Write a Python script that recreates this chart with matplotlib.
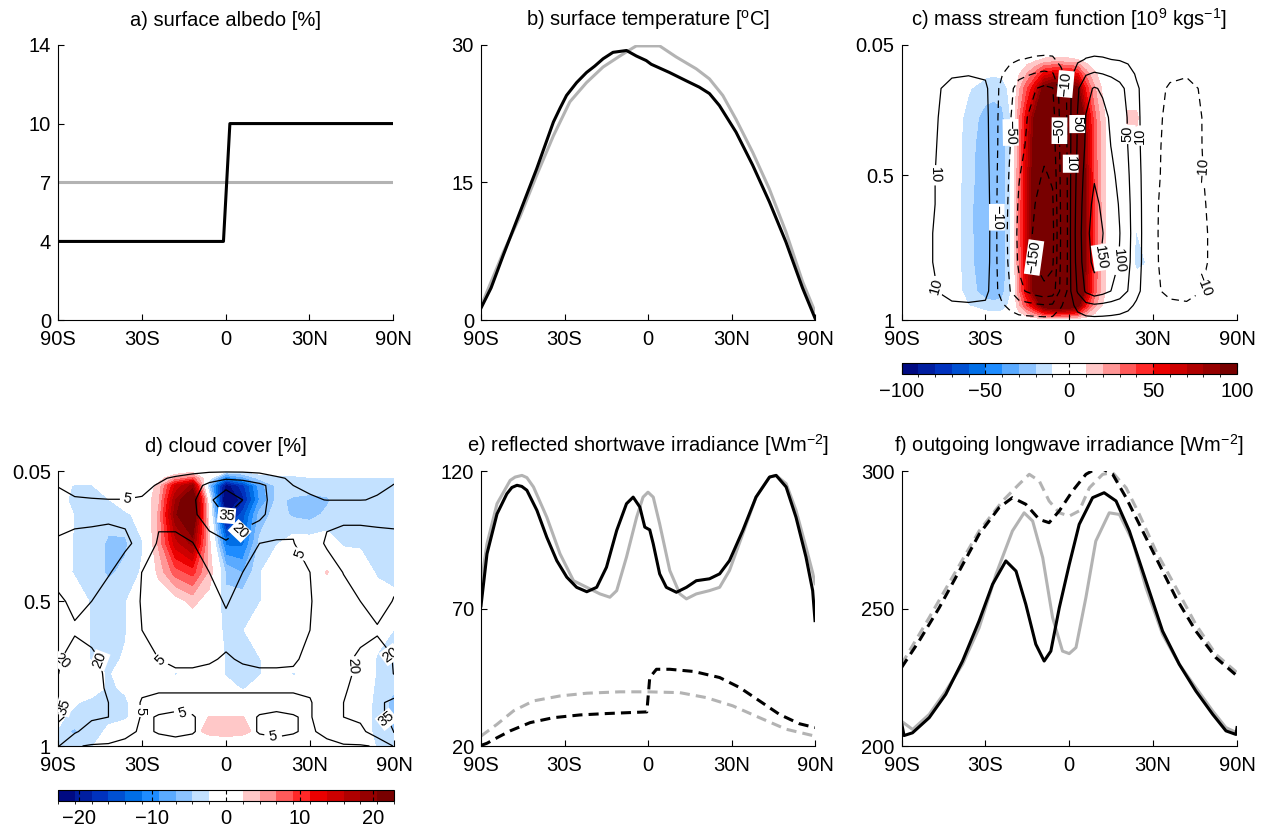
"""Six-panel zonal-mean comparison: control (grey) vs experiment (black)."""

import matplotlib

matplotlib.use("Agg")
import matplotlib.pyplot as plt
import numpy as np
from matplotlib.cm import ScalarMappable
from matplotlib.colors import BoundaryNorm, ListedColormap

plt.rcParams["font.family"] = ["Liberation Sans", "DejaVu Sans"]
plt.rcParams["mathtext.fontset"] = "custom"
plt.rcParams["mathtext.rm"] = "Liberation Sans"
plt.rcParams["mathtext.it"] = "Liberation Sans:italic"
plt.rcParams["font.size"] = 14.5

GREY = "#b3b3b3"
LAT_TICKS = [-90, -30, 0, 30, 90]
LAT_LABELS = ["90S", "30S", "0", "30N", "90N"]

# ---------------------------------------------------------------- a) albedo
albedo_ctrl_lat = [-90, 90]
albedo_ctrl = [7, 7]
albedo_exp_lat = [-90, -0.7, 1.5, 90]
albedo_exp = [4, 4, 10, 10]

# ------------------------------------------------------- b) surface temperature
tsurf_exp_lat = [-90, -70, -60, -50, -41.8, -34.5, -31.8, -29.2, -25.3, -21.6, -18.6,
                 -15.6, -12.1, -7.4, -4, -0.6, 1.1, 7.4, 13.2, 17.9, 21.6, 25.3, 31.8,
                 38.8, 46.6, 55.7, 67.7, 90]
tsurf_exp = [1.3, 3.5, 7.1, 11.8, 16.5, 21.6, 23.1, 24.5, 25.9, 27.0, 27.7, 28.5, 29.2,
             29.4, 28.8, 28.3, 27.9, 27.0, 26.1, 25.4, 24.7, 23.4, 20.5, 16.9, 12.9, 8.5,
             3.5, 0.2]
tsurf_ctrl_lat = [-90, -60, -50, -41.8, -34.5, -27.9, -21.6, -15.6, -9.7, -5.1, -4, 4,
                  9.7, 16.8, 21.6, 26.6, 31.8, 38.8, 46.6, 55.7, 67.7, 90]
tsurf_ctrl = [1.5, 7.4, 11.3, 15.8, 20.1, 23.8, 25.9, 27.6, 28.8, 29.7, 29.9, 29.9,
              28.7, 27.4, 26.3, 24.5, 21.9, 18.3, 14.3, 9.6, 4.2, 0.9]

# ------------------------------------------------ e) reflected shortwave (TOA solid, sfc dashed)
rsw_exp_lat = [-90, -74.6, -64.7, -57.7, -54.6, -51.7, -49.1, -46.5, -41.7, -37.3, -33.1,
               -29.1, -25.3, -21.5, -17.9, -14.4, -10.8, -7.4, -5.1, -2.8, -1.1, 0.6,
               1.8, 4.0, 6.3, 9.8, 13.3, 16.8, 21.6, 25.4, 29.2, 34.6, 40.3, 46.7, 50.1,
               55.8, 62.4, 71.1, 80.4, 90]
rsw_exp = [71, 89.9, 104.4, 111.7, 114.0, 114.8, 114.4, 113.0, 105.7, 95.9, 87.4, 81.4,
           77.7, 76.1, 77.7, 85.0, 98.4, 108.1, 110.5, 106.9, 99.6, 98.6, 93.5, 82.6,
           77.7, 75.9, 77.7, 80.1, 80.8, 82.6, 87.4, 98.4, 110.5, 117.8, 118.4, 114.2,
           103.2, 88.7, 76.5, 65.6]
rsw_ctrl_lat = [-90, -74.6, -64.7, -55.6, -52.7, -49, -46.5, -43.3, -37.3, -31.8, -26.5,
                -21.5, -16.7, -13.2, -10.8, -7.4, -3.9, -1.7, 0, 1.8, 4.0, 7.5, 11, 13.3,
                16.8, 21.6, 25.4, 29.2, 34.6, 40.3, 46.7, 50.1, 55.8, 62.4, 71.1, 80.4,
                90]
rsw_ctrl = [79, 93.5, 108.1, 116.6, 117.8, 118.4, 117.6, 114.2, 103.2, 89.9, 80.1, 77.7,
            75.3, 74.1, 76.5, 88.7, 103.2, 110.5, 112.3, 110.5, 100.8, 83.8, 75.3, 73.5,
            75.3, 76.5, 77.7, 83.8, 97.2, 110.5, 117.8, 118.4, 115.4, 105.7, 92.3, 83,
            79]
rsw_sfc_exp_lat = [-90, -74.6, -64.7, -55.6, -44.9, -34.5, -24, -14.4, -5.1, -0.4, 0.6,
                   2.9, 7.5, 15.9, 25.4, 33.2, 41.9, 51.9, 65, 90]
rsw_sfc_exp = [20.2, 21.0, 23.0, 25.5, 28.5, 30.3, 31.3, 31.8, 32.2, 32.4, 44.9, 47.9,
               47.9, 47.1, 44.9, 41.3, 36.4, 31.5, 28.1, 26.7]
rsw_sfc_ctrl_lat = [-90, -64.7, -53.6, -43.3, -31.8, -21.5, -9.7, 0, 11, 20.4, 30.5,
                    41.9, 55.8, 90]
rsw_sfc_ctrl = [23.6, 27.9, 32.8, 36.4, 38.2, 39.2, 39.7, 39.7, 39.4, 37.6, 34.6, 30.3,
                26.1, 23.6]

# ------------------------------------------- f) outgoing longwave (all-sky solid, clear dashed)
olr_exp_lat = [-90, -80, -69.1, -56.6, -47.4, -39.5, -32.5, -27.2, -22.2, -18.5, -15,
               -11.5, -8.6, -6.3, -3.4, 0, 3.4, 8, 12, 16.2, 21, 27.2, 33.8, 41, 49,
               58.8, 69.1, 83.7, 90]
olr_exp = [208.5, 203.8, 204.8, 210.3, 218.8, 230.9, 245.5, 258.8, 267.3, 263.6, 251.5,
           237, 230.9, 234.5, 250.3, 266, 280.6, 290.3, 292.1, 289.1, 278.2, 260, 241.8,
           229.7, 220, 211.5, 205.5, 204.2, 206.7]
olr_ctrl_lat = [-90, -69, -56.6, -47.4, -39.5, -32.5, -25.9, -19.8, -15.6, -12.6, -9.1,
                -5.7, -2.3, 0, 2.3, 5.7, 9.1, 13.8, 17.4, 22.2, 27.2, 33.8, 41, 49, 58.8,
                69, 90]
olr_ctrl = [209, 206, 211.5, 220, 229.7, 243, 262.4, 278.2, 284.8, 281.8, 268.5, 246.7,
            234.5, 233.6, 235.8, 254, 274.5, 284.8, 284.2, 274.5, 257.6, 240.6, 229.7,
            221.2, 212.7, 206.7, 204.8]
olr_clr_exp_lat = [-90, -63.5, -50.8, -41, -32.5, -24.7, -19.8, -15, -10.3, -6.9, -3.4,
                   1.1, 5.7, 8.6, 11, 15, 19.8, 24.7, 31.1, 39.5, 49, 61, 90]
olr_clr_exp = [228.5, 238.2, 250.3, 263.6, 277, 286.7, 290.3, 287.9, 282.4, 281.2, 285.5,
               292.7, 298.8, 300.5, 301, 298.8, 290.3, 280.6, 268.5, 253.9, 241.8, 232.1,
               225.5]
olr_clr_ctrl_lat = [-90, -56.6, -42.5, -32.5, -23.4, -17.4, -13.8, -10.3, -6.9, -3.4, 0,
                    3.4, 6.9, 11.5, 15, 19.8, 24.7, 31.1, 39.5, 49, 61, 90]
olr_clr_ctrl = [229.7, 246.7, 263.6, 278.2, 289.1, 295.2, 298.8, 296.4, 289.1, 284.8,
                283.6, 285.5, 293.9, 298.8, 299.4, 293.9, 284.2, 270.9, 257.6, 244.2,
                233.3, 226.7]

# ------------------------------------------------ c) mass stream function (lat x sigma)
psi_lat = [-90, -64.2, -53.1, -44.4, -36.9, -30, -26.7, -23.6, -20.5, -17.5, -14.5,
           -11.5, -8.6, -5.7, -2.9, 0, 2.9, 5.7, 8.6, 11.5, 14.5, 17.5, 20.5, 23.6,
           26.7, 30, 36.9, 44.4, 53.1, 64.2, 90]
psi_sigma = [0.05, 0.1, 0.15, 0.2, 0.3, 0.4, 0.5, 0.6, 0.7, 0.8, 0.9, 0.95, 1.0]
psi_ctrl = [
    [0] * 31,
    [0, 0, 1, 2, 2, 2, 0, -2, -5, -9, -11, -13, -14, -13, -4, 0, 6, 11, 13, 12, 10, 8, 5, 2, 0, 0, -2, -2, -1, 0, 0],
    [0, 1, 4, 8, 9, 7, 0, -9, -21, -37, -45, -53, -59, -54, -16, 0, 23, 46, 55, 50, 42, 33, 21, 7, 1, -2, -7, -8, -4, -1, 0],
    [0, 2, 7, 15, 17, 14, -1, -16, -40, -69, -84, -99, -110, -102, -29, 0, 44, 86, 104, 94, 79, 63, 39, 14, 2, -4, -12, -16, -7, -2, 0],
    [0, 2, 8, 18, 20, 16, -1, -19, -48, -82, -100, -118, -132, -122, -35, 0, 53, 102, 124, 112, 94, 75, 47, 16, 2, -4, -15, -19, -9, -2, 0],
    [0, 2, 9, 19, 21, 17, -1, -20, -51, -87, -105, -125, -139, -129, -37, 0, 55, 108, 131, 118, 99, 79, 49, 17, 2, -5, -16, -20, -9, -2, 0],
    [0, 3, 10, 21, 23, 19, -1, -23, -57, -97, -117, -139, -155, -144, -41, 0, 62, 120, 146, 131, 110, 88, 55, 19, 3, -5, -17, -22, -10, -3, 0],
    [0, 3, 10, 23, 26, 21, -1, -25, -62, -105, -128, -152, -169, -157, -45, 0, 67, 131, 160, 143, 121, 96, 60, 21, 3, -6, -19, -24, -11, -3, 0],
    [0, 3, 11, 24, 27, 22, -1, -26, -65, -111, -135, -160, -178, -165, -47, 0, 71, 138, 168, 151, 127, 101, 63, 22, 3, -6, -20, -25, -12, -3, 0],
    [0, 3, 11, 23, 26, 21, -1, -25, -62, -107, -130, -154, -171, -158, -45, 0, 68, 132, 161, 145, 122, 97, 60, 21, 3, -6, -19, -24, -12, -3, 0],
    [0, 2, 9, 19, 21, 17, -1, -20, -51, -87, -105, -125, -139, -129, -37, 0, 55, 108, 131, 118, 99, 79, 49, 17, 2, -5, -16, -20, -9, -2, 0],
    [0, 1, 3, 6, 7, 6, 0, -7, -16, -28, -34, -40, -45, -41, -12, 0, 18, 35, 42, 38, 32, 25, 16, 6, 1, -2, -5, -6, -3, -1, 0],
    [0] * 31,
]
psi_diff = [
    [0] * 31,
    [0, 0, 0, 0, -1, -2, -2, -2, -1, 2, 4, 7, 11, 12, 12, 11, 10, 5, 2, 1, 0, 0, 0, 0, 0, 0, 0, 0, 0, 0, 0],
    [0, 0, -1, -1, -5, -8, -9, -8, -4, 9, 21, 35, 54, 60, 60, 57, 51, 26, 12, 5, 1, 0, 0, 0, 0, 0, 0, 0, 0, 0, 0],
    [0, 0, -1, -1, -9, -15, -16, -15, -7, 17, 39, 63, 99, 110, 110, 105, 94, 47, 22, 8, 1, 0, 0, 0, 0, 0, 0, 0, 0, 0, 0],
    [0, 0, -2, -2, -14, -24, -25, -23, -10, 26, 60, 98, 153, 170, 170, 162, 145, 72, 34, 13, 2, 0, 13, 13, 0, 0, 0, 0, 0, 0, 0],
    [0, 0, -2, -2, -16, -26, -27, -25, -11, 28, 64, 106, 166, 184, 184, 175, 156, 78, 37, 14, 2, 0, 6, 6, 0, 0, 0, 0, 0, 0, 0],
    [0, 0, -2, -2, -16, -27, -28, -26, -12, 29, 67, 110, 173, 192, 192, 182, 163, 82, 38, 14, 2, 0, 0, 0, 0, 0, 0, 0, 0, 0, 0],
    [0, 0, -2, -2, -17, -28, -29, -27, -12, 30, 69, 114, 178, 198, 198, 188, 168, 84, 40, 15, 2, 0, 0, 0, 0, 0, 0, 0, 0, 0, 0],
    [0, 0, -2, -2, -17, -28, -29, -27, -12, 30, 70, 115, 180, 200, 200, 190, 170, 85, 40, 15, 2, 0, 0, -11, 0, 0, 0, 0, 0, 0, 0],
    [0, 0, -2, -2, -17, -27, -28, -26, -12, 29, 69, 113, 176, 196, 196, 186, 167, 83, 39, 15, 2, 0, 0, -14, -11, 0, 0, 0, 0, 0, 0],
    [0, 0, -2, -2, -15, -25, -26, -24, -11, 27, 63, 104, 162, 180, 180, 171, 153, 77, 36, 14, 2, 0, 0, 0, 0, 0, 0, 0, 0, 0, 0],
    [0, 0, -1, -1, -10, -16, -17, -16, -7, 17, 41, 67, 104, 116, 116, 110, 99, 49, 23, 9, 1, 0, 0, 0, 0, 0, 0, 0, 0, 0, 0],
    [0] * 31,
]
psi_levels = [-150, -100, -50, -10, 10, 50, 100, 150]

# ------------------------------------------------------ d) cloud cover (lat x sigma)
cld_lat = [-90, -64.2, -53.1, -44.4, -36.9, -30, -23.6, -17.5, -11.5, -5.7, 0, 5.7,
           11.5, 17.5, 23.6, 30, 36.9, 44.4, 53.1, 64.2, 90]
cld_sigma = [0.05, 0.075, 0.1, 0.15, 0.2, 0.3, 0.4, 0.5, 0.6, 0.7, 0.75, 0.8, 0.85,
             0.9, 0.95, 1.0]
cld_ctrl = [
    [2, 2, 2, 2, 2, 2, 2, 2, 3, 3, 3, 3, 3, 2, 2, 2, 2, 2, 2, 2, 2],
    [3, 3, 3, 3, 3, 3, 4, 6, 8, 14, 18, 16, 10, 6, 4, 3, 3, 3, 3, 3, 3],
    [4.5, 4, 3.5, 3, 3, 3.5, 5.5, 9, 14, 24, 32, 30, 24, 13, 5, 3.5, 3, 3, 3.5, 4, 5.5],
    [9, 5.3, 5.2, 5.1, 5.1, 5.5, 8, 10, 17, 33, 42, 35, 25, 14, 8, 6, 4.8, 4.8, 4.8, 5.5, 10],
    [14, 16, 17, 18, 18, 12, 8, 8, 17, 28, 36, 26, 24, 12, 8, 12, 17, 17, 17, 16, 15],
    [22, 24, 24, 24, 22, 17, 3, 3, 4.5, 14, 18, 14, 5, 4, 4.5, 12, 22, 25, 25, 25, 25],
    [24, 24, 23, 21, 15, 4.8, 3, 3, 3, 5, 9, 5, 3, 3, 3, 5, 12, 20.5, 24, 25, 25],
    [18, 21, 20, 14, 9, 4.5, 3, 3, 3, 3, 5.5, 3, 3, 3, 3, 4.5, 9, 14, 20, 22, 19],
    [18, 19.5, 17, 12, 8, 5, 3, 3, 3, 3, 3.5, 3, 3, 3, 3, 5, 8, 12, 17, 19.5, 18],
    [18, 22, 22, 18, 10, 6, 5, 3.5, 3.5, 4.5, 5.5, 4.5, 3.5, 3.5, 4, 7, 10, 18, 22, 22, 19],
    [19.5, 22, 22, 19, 12, 7, 6, 6, 6, 6, 6, 6, 6, 6, 6, 7, 10, 18, 22, 22, 19.5],
    [28, 24, 23, 19, 10, 6, 5.5, 5.5, 5.5, 5.5, 5.5, 5.5, 5.5, 5.5, 5.5, 6, 10, 19, 23, 24, 28],
    [38, 33, 24, 20, 9, 4.5, 4, 4, 4, 4, 4, 4, 4, 4, 4, 4.5, 9, 20, 24, 34, 38],
    [38, 33, 22, 20, 9, 4.5, 5.2, 5.6, 5.2, 4, 4, 4, 5.2, 5.6, 5.2, 4.5, 9, 20, 23, 34, 38],
    [30, 22, 14, 10, 6, 4.5, 5.2, 5.6, 5.2, 4, 4, 4, 5.2, 5.6, 5.2, 4.5, 6, 12, 16, 30, 36],
    [25, 6, 4, 4, 4, 4, 4, 4, 4, 4, 4, 4, 4, 4, 4, 4, 4, 4, 4, 6, 25],
]
cld_diff = [
    [0, 0, 0, 0, 0, 0, 0, 0, 1, 0, -2, -2, -1, -1, -1, 0, 0, 0, 0, 0, 0],
    [0, -1, 0, 0, 0, 0, 1, 5, 8, -1, -12, -8, -4, -3, -3, -2.6, -2.6, -2.6, -2.4, -2.4, -2.4],
    [0, -2.5, -2.5, 0, 0, 0, 3, 14, 19, -6, -22, -17, -8, -4, -3, -3, -3, -3, -2.6, -2.6, -2.6],
    [0, -3, -2.5, -2.5, 0, 0, 4, 18, 26, 0, -26, -19, -9, -4, -5, -5.5, -5, -3, -2.6, -2.6, -2.6],
    [3, -2.5, -3, -3.5, -3, -1, 5, 20, 26, 1, -21, -15, -6, -3.5, -5, -5.5, -4, -2.6, -2.6, -2.6, -2.6],
    [1, -2.5, -3, -5, -5, -2.5, 5, 15, 19, 3, -12, -12, -4, -2.5, -1, -1, -1, -2.6, -2.6, -2.6, -2.6],
    [0, -2.5, -3, -5, -4, -2, 3, 8, 10, 4, -5, -7, -2.5, 0, 0, 0, 2.5, 0, -1, -2.6, -2.6],
    [0, -1, -2.5, -3, -2.5, 0, 0, 1, 3, 1, -4, -3, -2.5, 0, 0, 0, 0, 0, 0, -1, -2],
    [0, 0, -2.5, -3, -2.5, 0, 0, 0, 0, 0, -3, -2.5, 0, 0, 0, 0, 0, 0, 0, -1, -2.6],
    [0, 0, -2.5, -3, -2, 0, 0, 0, 0, 0, -2.5, -3.5, -2.5, 0, 0, 0, 0, 0, 0, -2.6, -3],
    [0, 0, -1, -2.6, -1, 0, 0, -2.6, -1, 0, -2.6, -3, -2.6, 0, -2.6, -1, 0, 0, 0, -2.6, -3.5],
    [2.5, 0, -1, -2.6, -2, 0, 0, 0, 0, 0, -1, -2.6, -1, 0, -1, 0, 0, 0, 0, -3, -4],
    [0, -2, -3, -3, -2.6, -1, 0, 0, 0, 0, 0, 0, 0, 0, 0, 0, 0, 0, 0, -3.5, -6],
    [-1, -3, -3, -2.6, -2.6, -1, 0, 0, 0, 2.4, 2.4, 2.4, 0, 0, 0, 0, 0, 0, 0, -3.5, -6],
    [-2.6, -5, -3, -2, -1, 0, 0, 0, 1.5, 3, 3.5, 3, 1.5, 0, 0, 0, 0, 0, -1, -3, -5],
    [-2.6, -3, -2.6, 0, 0, 0, 0, 0, 0, 0, 0, 0, 0, 0, 0, 0, 0, 0, 0, -2.6, -3],
]
cld_levels = [5, 20, 35]
CLD_RANGE = 22.8

# 20-step blue-white-red palette of the colour bars
DIV_COLORS = [
    "#000a82", "#001ea0", "#0032be", "#0050d2", "#006ee6",
    "#1e8cff", "#5aaaff", "#8cc3ff", "#c3e1ff", "#ffffff",
    "#ffffff", "#ffc8c8", "#ff9696", "#ff5a5a", "#ff2828",
    "#eb0000", "#cd0000", "#af0000", "#960000", "#780000",
]


def sinlat(lat):
    return np.sin(np.deg2rad(lat))


def arcsinlat(s):
    return np.rad2deg(np.arcsin(np.clip(s, -1, 1)))


def style_axis(ax, title):
    ax.set_xscale("function", functions=(sinlat, arcsinlat))
    ax.set_xlim(-90, 90)
    ax.set_xticks(LAT_TICKS)
    ax.set_xticklabels(LAT_LABELS)
    for side in ("top", "right"):
        ax.spines[side].set_visible(False)
    for side in ("left", "bottom"):
        ax.spines[side].set_linewidth(0.8)
    ax.tick_params(direction="in", length=4, width=0.8)
    ax.tick_params(axis="x", pad=7)
    ax.tick_params(axis="y", pad=5)
    ax.set_title(title, pad=14, fontsize=14.5)


def field_panel(ax, lat, sigma, fill, lines, levels, vmax, label_pos, title):
    cmap = ListedColormap(DIV_COLORS)
    cmap.set_under(DIV_COLORS[0])
    cmap.set_over(DIV_COLORS[-1])
    bounds = np.linspace(-vmax, vmax, len(DIV_COLORS) + 1)
    ax.contourf(lat, sigma, np.array(fill, dtype=float), levels=bounds, cmap=cmap,
                extend="both")
    styles = ["solid" if lv > 0 else (0, (6, 4)) for lv in levels]
    cs = ax.contour(lat, sigma, np.array(lines, dtype=float), levels=levels,
                    colors="k", linewidths=0.9, linestyles=styles)
    texts = ax.clabel(cs, fmt=lambda v: f"{v:.0f}".replace("-", "\u2212"),
                      fontsize=10.5, inline=True, inline_spacing=2, manual=label_pos)
    for t in texts:
        t.set_bbox(dict(facecolor="white", edgecolor="none", pad=0.6))
    ax.set_ylim(1, 0.05)
    ax.set_yticks([0.05, 0.5, 1])
    ax.set_yticklabels(["0.05", "0.5", "1"])
    style_axis(ax, title)
    return cmap, bounds


def colorbar(fig, rect, cmap, bounds, ticks, ticklabels):
    cax = fig.add_axes(rect)
    norm = BoundaryNorm(bounds, cmap.N)
    cb = fig.colorbar(ScalarMappable(norm=norm, cmap=cmap), cax=cax,
                      orientation="horizontal")
    cb.set_ticks(ticks)
    cb.set_ticklabels(ticklabels)
    cb.outline.set_linewidth(0.8)
    cax.tick_params(direction="in", length=3, width=0.8, top=True, bottom=True,
                    pad=6, labelsize=14.5)


fig = plt.figure(figsize=(12.66, 8.30), dpi=100)

W, H = 1266.0, 830.0


def rect(x0, x1, y0, y1):
    return [x0 / W, 1 - y1 / H, (x1 - x0) / W, (y1 - y0) / H]


ax_a = fig.add_axes(rect(58, 393, 45, 320))
ax_b = fig.add_axes(rect(481, 815, 45, 320))
ax_c = fig.add_axes(rect(901.5, 1237, 45, 320))
ax_d = fig.add_axes(rect(58, 394, 471, 746))
ax_e = fig.add_axes(rect(481, 815, 471, 746))
ax_f = fig.add_axes(rect(901.5, 1237, 471, 746))

LW = 2.2
DASH = (0, (3.3, 2.0))

# a) surface albedo
ax_a.plot(albedo_ctrl_lat, albedo_ctrl, color=GREY, lw=LW)
ax_a.plot(albedo_exp_lat, albedo_exp, color="k", lw=LW)
ax_a.set_ylim(0, 14)
ax_a.set_yticks([0, 4, 7, 10, 14])
style_axis(ax_a, "a) surface albedo [%]")

# b) surface temperature
ax_b.plot(tsurf_ctrl_lat, tsurf_ctrl, color=GREY, lw=LW)
ax_b.plot(tsurf_exp_lat, tsurf_exp, color="k", lw=LW)
ax_b.set_ylim(0, 30)
ax_b.set_yticks([0, 15, 30])
style_axis(ax_b, r"b) surface temperature [$^{\mathrm{o}}$C]")

# c) mass stream function
psi_labels = [(-54, 0.5), (-48.6, 0.88), (-26, 0.645), (-21.2, 0.352), (-1.4, 0.185),
              (-2.7, 0.346), (2.1, 0.323), (0.3, 0.46), (-11.7, 0.784), (10.1, 0.784),
              (15.4, 0.795), (21.4, 0.357), (25.1, 0.363), (53.3, 0.484), (51.5, 0.876)]
cmap_c, bounds_c = field_panel(ax_c, psi_lat, psi_sigma, psi_diff, psi_ctrl, psi_levels,
                               100, psi_labels,
                               r"c) mass stream function [10$^9$ kgs$^{-1}$]")
colorbar(fig, rect(901.5, 1237, 363, 374), cmap_c, bounds_c, [-100, -50, 0, 50, 100],
         ["\u2212100", "\u221250", "0", "50", "100"])

# d) cloud cover
cld_labels = [(-36.2, 0.139), (0, 0.203), (4.3, 0.255), (24.4, 0.341), (-49.4, 0.705),
              (-80.8, 0.688), (-23, 0.705), (-68, 0.864), (-32.7, 0.879), (-15.8, 0.907),
              (17.1, 0.948), (47, 0.723), (78.2, 0.682), (71.6, 0.925)]
cmap_d, bounds_d = field_panel(ax_d, cld_lat, cld_sigma, cld_diff, cld_ctrl, cld_levels,
                               CLD_RANGE, cld_labels, "d) cloud cover [%]")
colorbar(fig, rect(58, 394, 790, 801), cmap_d, bounds_d, [-20, -10, 0, 10, 20],
         ["\u221220", "\u221210", "0", "10", "20"])

# e) reflected shortwave
ax_e.plot(rsw_ctrl_lat, rsw_ctrl, color=GREY, lw=LW)
ax_e.plot(rsw_exp_lat, rsw_exp, color="k", lw=LW)
ax_e.plot(rsw_sfc_ctrl_lat, rsw_sfc_ctrl, color=GREY, lw=LW, ls=DASH)
ax_e.plot(rsw_sfc_exp_lat, rsw_sfc_exp, color="k", lw=LW, ls=DASH)
ax_e.set_ylim(20, 120)
ax_e.set_yticks([20, 70, 120])
style_axis(ax_e, r"e) reflected shortwave irradiance [Wm$^{-2}$]")

# f) outgoing longwave
ax_f.plot(olr_ctrl_lat, olr_ctrl, color=GREY, lw=LW)
ax_f.plot(olr_exp_lat, olr_exp, color="k", lw=LW)
ax_f.plot(olr_clr_ctrl_lat, olr_clr_ctrl, color=GREY, lw=LW, ls=DASH)
ax_f.plot(olr_clr_exp_lat, olr_clr_exp, color="k", lw=LW, ls=DASH)
ax_f.set_ylim(200, 300)
ax_f.set_yticks([200, 250, 300])
style_axis(ax_f, r"f) outgoing longwave irradiance [Wm$^{-2}$]")

fig.savefig("out.png", dpi=100)
plt.close(fig)
